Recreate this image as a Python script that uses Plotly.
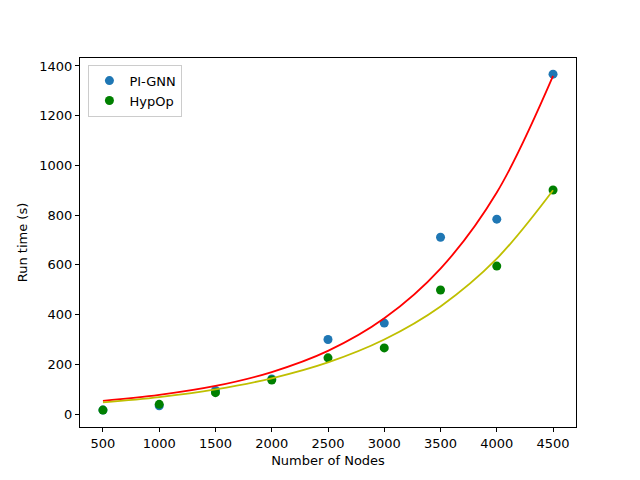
import plotly.graph_objects as go

nodes = [500, 1000, 1500, 2000, 2500, 3000, 3500, 4000, 4500]
pignn_time = [16, 33, 95, 141, 300, 366, 711, 784, 1367]
hypop_time = [16, 39, 86, 137, 226, 266, 499, 595, 901]
# fitted curves at each node count
pignn_fit = [53, 77, 113, 169, 254, 385, 585, 891, 1360]
hypop_fit = [47, 68, 99, 144, 208, 300, 433, 625, 900]

x_ticks = [500, 1000, 1500, 2000, 2500, 3000, 3500, 4000, 4500]
y_ticks = [0, 200, 400, 600, 800, 1000, 1200, 1400]

font = "DejaVu Sans"
fig = go.Figure()
fig.add_trace(go.Scatter(x=nodes, y=pignn_time, mode="markers", name="PI-GNN",
                         marker=dict(color="#1f77b4", size=9)))
fig.add_trace(go.Scatter(x=nodes, y=hypop_time, mode="markers", name="HypOp",
                         marker=dict(color="green", size=9)))
fig.add_trace(go.Scatter(x=nodes, y=pignn_fit, mode="lines", showlegend=False,
                         line=dict(color="red", width=1.8, shape="spline", smoothing=1.0)))
fig.add_trace(go.Scatter(x=nodes, y=hypop_fit, mode="lines", showlegend=False,
                         line=dict(color="#bfbf00", width=1.8, shape="spline", smoothing=1.0)))

axis_common = dict(showgrid=False, zeroline=False, showline=True, linecolor="black",
                   linewidth=1, mirror=True, ticks="outside", ticklen=4, tickcolor="black",
                   tickfont=dict(family=font, size=13, color="black"))
fig.update_xaxes(range=[296, 4704], tickvals=x_ticks,
                 title=dict(text="Number of Nodes", font=dict(family=font, size=13, color="black"), standoff=6),
                 **axis_common)
fig.update_yaxes(range=[-52, 1432], tickvals=y_ticks,
                 title=dict(text="Run time (s)", font=dict(family=font, size=13, color="black"), standoff=8),
                 **axis_common)
fig.update_layout(
    width=632, height=472,
    margin=dict(l=72, r=64, t=50, b=53),
    plot_bgcolor="white", paper_bgcolor="white",
    font=dict(family=font, size=13, color="black"),
    legend=dict(x=0.017, y=0.982, xanchor="left", yanchor="top",
                bgcolor="rgba(255,255,255,0.8)", bordercolor="#cccccc", borderwidth=1,
                font=dict(family=font, size=13, color="black")),
)
fig.write_html("out.html")
